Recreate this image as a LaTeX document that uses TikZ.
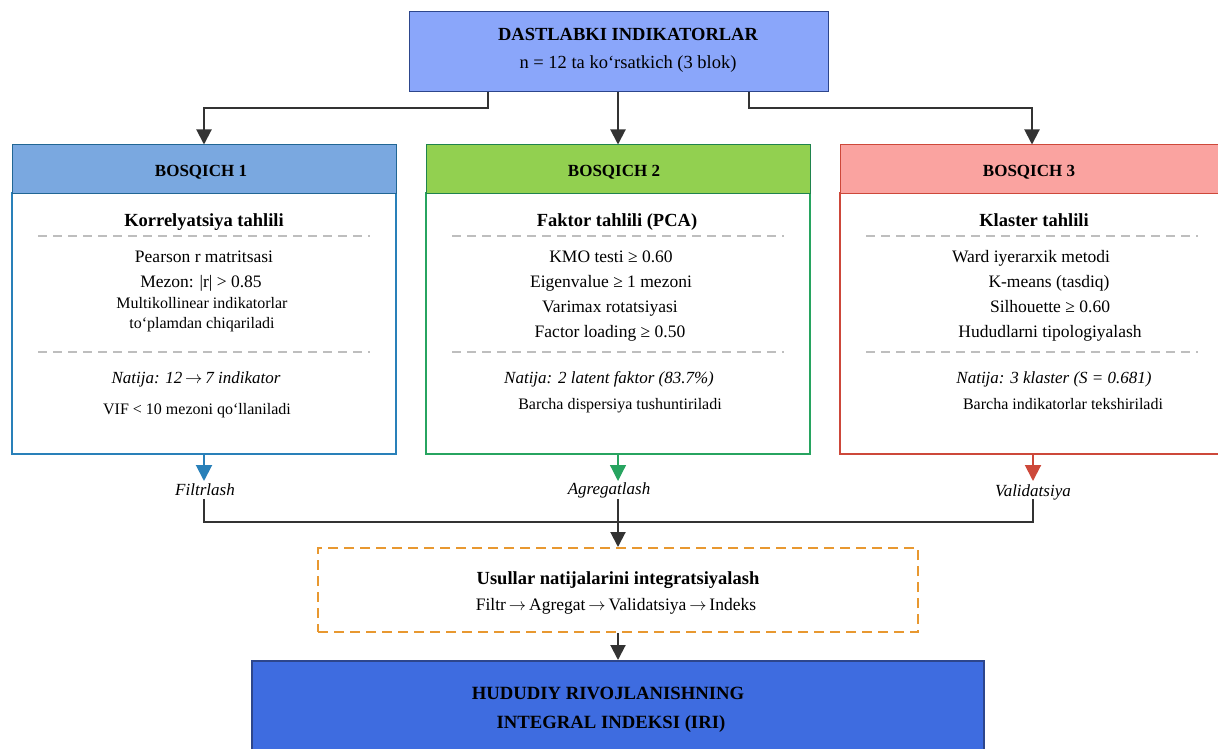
\documentclass[tikz,border=0pt]{standalone}
\usepackage{fontspec}
\setmainfont{Liberation Serif}
\usetikzlibrary{arrows.meta}

\definecolor{topfill}{RGB}{138,166,250}
\definecolor{topline}{RGB}{45,70,140}
\definecolor{hblue}{RGB}{122,168,224}
\definecolor{hgreen}{RGB}{146,208,80}
\definecolor{hred}{RGB}{250,163,160}
\definecolor{cblue}{RGB}{41,128,185}
\definecolor{cgreen}{RGB}{39,164,96}
\definecolor{cred}{RGB}{205,72,58}
\definecolor{corange}{RGB}{232,152,48}
\definecolor{iri}{RGB}{62,108,224}
\definecolor{dark}{RGB}{51,51,51}
\definecolor{sepgray}{RGB}{190,190,190}

\newcommand{\fsz}[1]{\fontsize{#1}{#1}\selectfont}
\newcommand{\arr}{\,$\rightarrow$\,}

\begin{document}
\begin{tikzpicture}[x=1pt,y=-1pt,
    >={Triangle[length=15pt,width=15pt]},
    hdr/.style={draw, line width=1pt, minimum width=384pt, minimum height=48pt, inner sep=0pt, font=\bfseries\fsz{17}},
    hdrtxt/.style={font=\bfseries\fsz{17}, inner sep=0pt, text height=15pt, text depth=0pt},
    stagebody/.style={draw, line width=2pt, fill=white, minimum width=384pt, minimum height=261pt, inner sep=0pt},
    ttl/.style={font=\bfseries\fsz{18.5}, inner sep=0pt, text height=17pt, text depth=4pt},
    itm/.style={font=\fsz{17.5}, inner sep=0pt, text height=16pt, text depth=3.5pt},
    sml/.style={font=\fsz{16}, inner sep=0pt, text height=15pt, text depth=3pt},
    res/.style={font=\itshape\fsz{17}, inner sep=0pt, text height=16pt, text depth=3.5pt},
    sep/.style={draw=sepgray, line width=1.2pt, dash pattern=on 9pt off 6pt},
    link/.style={draw=dark, line width=2pt},
  ]
  \useasboundingbox (0,0) rectangle (1218,749);

  % boshlang'ich blok
  \node[draw=topline, line width=1pt, fill=topfill, minimum width=419pt, minimum height=80pt] (top) at (618.5,52) {};
  \node[ttl] (toptitle) at (628,34) {DASTLABKI INDIKATORLAR};
  \node[itm, font=\fsz{18.5}] (topsub) at (628,62) {n = 12 ta ko‘rsatkich (3 blok)};

  % bosqichlar: sarlavha va tana
  \node[stagebody, draw=cblue] (b1) at (204,323.5) {};
  \node[stagebody, draw=cgreen] (b2) at (618,323.5) {};
  \node[stagebody, draw=cred] (b3) at (1032,323.5) {};
  \node[hdr, fill=hblue, draw=cblue!80!black] (h1) at (204,169) {};
  \node[hdr, fill=hgreen, draw=cgreen!80!black] (h2) at (618,169) {};
  \node[hdr, fill=hred, draw=cred] (h3) at (1032,169) {};
  \node[hdrtxt] (h1txt) at (201,169) {BOSQICH 1};
  \node[hdrtxt] (h2txt) at (614,169) {BOSQICH 2};
  \node[hdrtxt] (h3txt) at (1029,169) {BOSQICH 3};

  % bosqich 1
  \node[ttl] (k0) at (204,220) {Korrelyatsiya tahlili};
  \draw[sep] (38,236) -- (370,236);
  \node[itm] (k1) at (204,256) {Pearson r matritsasi};
  \node[itm] (k2) at (201,281) {Mezon: |r| > 0.85};
  \node[sml] (k3) at (202,302) {Multikollinear indikatorlar};
  \node[sml] (k4) at (202,322) {to‘plamdan chiqariladi};
  \draw[sep] (38,352) -- (370,352);
  \node[res] (k5) at (196,377) {Natija: 12\arr 7 indikator};
  \node[sml] (k6) at (197,408) {VIF < 10 mezoni qo‘llaniladi};

  % bosqich 2
  \node[ttl] (f0) at (617,220) {Faktor tahlili (PCA)};
  \draw[sep] (452,236) -- (784,236);
  \node[itm] (f1) at (611,256) {KMO testi ≥ 0.60};
  \node[itm] (f2) at (611,281) {Eigenvalue ≥ 1 mezoni};
  \node[itm] (f3) at (610,306) {Varimax rotatsiyasi};
  \node[itm] (f4) at (610,331) {Factor loading ≥ 0.50};
  \draw[sep] (452,352) -- (784,352);
  \node[res] (f5) at (609,377) {Natija: 2 latent faktor (83.7\%)};
  \node[sml] (f6) at (620,403) {Barcha dispersiya tushuntiriladi};

  % bosqich 3
  \node[ttl] (c0) at (1034,220) {Klaster tahlili};
  \draw[sep] (866,236) -- (1198,236);
  \node[itm] (c1) at (1031,256) {Ward iyerarxik metodi};
  \node[itm] (c2) at (1049,281) {K-means (tasdiq)};
  \node[itm] (c3) at (1050,306) {Silhouette ≥ 0.60};
  \node[itm] (c4) at (1050,331) {Hududlarni tipologiyalash};
  \draw[sep] (866,352) -- (1198,352);
  \node[res] (c5) at (1054,377) {Natija: 3 klaster (S = 0.681)};
  \node[sml] (c6) at (1063,403) {Barcha indikatorlar tekshiriladi};

  % yuqoridan bosqichlarga
  \draw[link, ->] ([xshift=-130.5pt]top.south) -- ++(0,16) -| (h1.north);
  \draw[link, ->] (top.south -| h2.north) -- (h2.north);
  \draw[link, ->] ([xshift=130.5pt]top.south) -- ++(0,16) -| (h3.north);

  % bosqich natijalari
  \node[res] (lf) at (205,489) {Filtrlash};
  \node[res] (la) at (609,488) {Agregatlash};
  \node[res] (lv) at (1033,490) {Validatsiya};
  \draw[draw=cblue, line width=2pt, ->, >={Triangle[length=16pt,width=16pt]}, fill=cblue] (b1.south) -- (204,481);
  \draw[draw=cgreen, line width=1.2pt, ->, >={Triangle[length=16pt,width=16pt]}, fill=cgreen] (b2.south) -- (618,481);
  \draw[draw=cred, line width=2pt, ->, >={Triangle[length=16pt,width=16pt]}, fill=cred] (1033,454) -- (1033,481);
  \coordinate (jn) at (618,522);
  \draw[link] (204,499) |- (1033,522) -- (1033,499);
  \draw[link] (618,499) -- (jn);

  % integratsiya
  \node[draw=corange, line width=2pt, dash pattern=on 10pt off 6pt, minimum width=600pt, minimum height=84pt] (integ) at (618,590) {};
  \node[ttl] (it1) at (618,578) {Usullar natijalarini integratsiyalash};
  \node[itm] (it2) at (616,604) {Filtr\arr Agregat\arr Validatsiya\arr Indeks};
  \draw[link, ->] (jn) -- (integ.north);

  % yakuniy indeks
  \node[draw=topline, line width=1.5pt, fill=iri, minimum width=732pt, minimum height=100pt, anchor=north] (final) at (618,660) {};
  \node[ttl, font=\bfseries\fsz{18.7}] (fin1) at (608,693) {HUDUDIY RIVOJLANISHNING};
  \node[ttl, font=\bfseries\fsz{18.7}] (fin2) at (611,722) {INTEGRAL INDEKSI (IRI)};
  \draw[link, ->] (integ.south) -- (final.north);
\end{tikzpicture}
\end{document}
